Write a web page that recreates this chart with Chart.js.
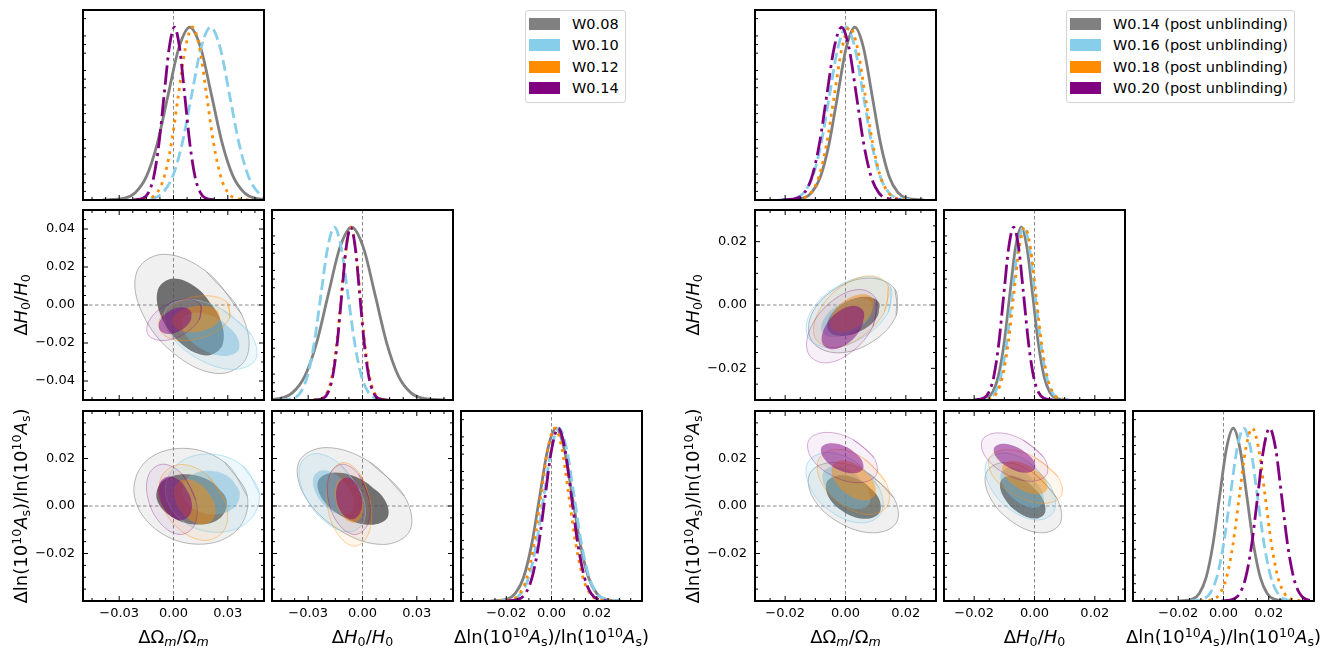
<!DOCTYPE html>
<html>
<head>
<meta charset="utf-8">
<script src="https://cdn.jsdelivr.net/npm/chart.js@4.4.1/dist/chart.umd.min.js"></script>
<style>
  body { margin: 0; background: #fff; width: 1334px; height: 650px; position: relative; overflow: hidden; font-family: 'DejaVu Sans', sans-serif; }
  canvas { position: absolute; }
  .axis-title { position: absolute; font-size: 18px; line-height: 1; white-space: nowrap; color: #000; transform: translate(-50%, -50%); }
  .axis-title.vertical { transform: translate(-50%, -50%) rotate(-90deg); }
  .axis-title sub { font-size: 0.7em; vertical-align: -0.25em; line-height: 0; }
  .axis-title sup { font-size: 0.7em; vertical-align: 0.5em; line-height: 0; }
  .legend { position: absolute; border: 1px solid #d4d4d4; border-radius: 3px; background: #fff; font-size: 14.5px; padding: 2px 6px 3px 3px; }
  .legend .row { display: flex; align-items: center; height: 21.5px; white-space: nowrap; }
  .legend .swatch { width: 31px; height: 12px; margin-right: 12px; }
</style>
</head>
<body>
<script>
// ---------- samples ----------
const samplesLeft = ['W0.08', 'W0.10', 'W0.12', 'W0.14'];
const samplesRight = ['W0.14 (post unblinding)', 'W0.16 (post unblinding)', 'W0.18 (post unblinding)', 'W0.20 (post unblinding)'];
const lineColors = ['#808080', '#87ceeb', '#ff8c00', '#800080'];
const lineDashes = [[], [11, 5], [3, 5], [19, 5, 3, 5]];
const outerFills = ['rgba(128,128,128,0.12)', 'rgba(135,206,235,0.15)', 'rgba(255,140,0,0.07)', 'rgba(128,0,128,0.06)'];
const innerFills = ['rgba(80,80,80,0.8)', 'rgba(110,185,220,0.45)', 'rgba(255,140,0,0.45)', 'rgba(128,0,128,0.5)'];
const edgeColors = ['rgba(128,128,128,0.7)', 'rgba(135,206,235,0.7)', 'rgba(255,140,0,0.5)', 'rgba(128,0,128,0.4)'];

// ---------- ticks ----------
const ticksWide = [-0.03, 0, 0.03];
const labelsWide = ['\u22120.03', '0.00', '0.03'];
const ticksH0Y = [-0.04, -0.02, 0, 0.02, 0.04];
const labelsH0Y = ['\u22120.04', '\u22120.02', '0.00', '0.02', '0.04'];
const ticksNarrow = [-0.02, 0, 0.02];
const labelsNarrow = ['\u22120.02', '0.00', '0.02'];
const pdfMinorTicks = [0.05, 0.1, 0.15, 0.25, 0.3, 0.35, 0.45, 0.5, 0.55, 0.65, 0.7, 0.75, 0.85, 0.9, 0.95, 1.05];

// ---------- 1D marginals (normalised peak = 1) ----------
const pdfShape = [0.0003, 0.011, 0.044, 0.135, 0.325, 0.607, 0.882, 1, 0.882, 0.607, 0.325, 0.135, 0.044, 0.011, 0.0003];

const leftOmX = [
  [-0.039, -0.027, -0.021, -0.015, -0.009, -0.003, 0.003, 0.009, 0.015, 0.021, 0.027, 0.033, 0.039, 0.045, 0.057],
  [-0.0215, -0.011, -0.00575, -0.0005, 0.00475, 0.01, 0.01525, 0.0205, 0.02575, 0.031, 0.03625, 0.0415, 0.04675, 0.052, 0.0625],
  [-0.0207, -0.0129, -0.009, -0.0051, -0.0012, 0.0027, 0.0066, 0.0105, 0.0144, 0.0183, 0.0222, 0.0261, 0.03, 0.0339, 0.0417],
  [-0.0223, -0.0166, -0.01375, -0.0109, -0.00805, -0.0052, -0.00235, 0.0005, 0.00335, 0.0062, 0.00905, 0.0119, 0.01475, 0.0176, 0.0233]
];
const leftH0X = [
  [-0.058, -0.045, -0.0385, -0.032, -0.0255, -0.019, -0.0125, -0.006, 0.0005, 0.007, 0.0135, 0.02, 0.0265, 0.033, 0.046],
  [-0.0455, -0.038, -0.03425, -0.0305, -0.02675, -0.023, -0.01925, -0.0155, -0.01175, -0.008, -0.00425, -0.0005, 0.00325, 0.007, 0.0145],
  [-0.0273, -0.0221, -0.0195, -0.0169, -0.0143, -0.0117, -0.0091, -0.0065, -0.0039, -0.0013, 0.0013, 0.0039, 0.0065, 0.0091, 0.0143],
  [-0.0265, -0.0215, -0.019, -0.0165, -0.014, -0.0115, -0.009, -0.0065, -0.004, -0.0015, 0.001, 0.0035, 0.006, 0.0085, 0.0135]
];
const leftAsX = [
  [-0.0268, -0.0196, -0.016, -0.0124, -0.0088, -0.0052, -0.0016, 0.002, 0.0056, 0.0092, 0.0128, 0.0164, 0.02, 0.0236, 0.0308],
  [-0.0235, -0.0168, -0.01345, -0.0101, -0.00675, -0.0034, -0.00005, 0.0033, 0.00665, 0.01, 0.01335, 0.0167, 0.02005, 0.0234, 0.0301],
  [-0.0233, -0.0171, -0.014, -0.0109, -0.0078, -0.0047, -0.0016, 0.0015, 0.0046, 0.0077, 0.0108, 0.0139, 0.017, 0.0201, 0.0263],
  [-0.0202, -0.0144, -0.0115, -0.0086, -0.0057, -0.0028, 0.0001, 0.003, 0.0059, 0.0088, 0.0117, 0.0146, 0.0175, 0.0204, 0.0262]
];
const rightOmX = [
  [-0.0197, -0.014, -0.01115, -0.0083, -0.00545, -0.0026, 0.00025, 0.0031, 0.00595, 0.0088, 0.01165, 0.0145, 0.01735, 0.0202, 0.0259],
  [-0.0221, -0.0165, -0.0137, -0.0109, -0.0081, -0.0053, -0.0025, 0.0003, 0.0031, 0.0059, 0.0087, 0.0115, 0.0143, 0.0171, 0.0227],
  [-0.019, -0.0139, -0.01135, -0.0088, -0.00625, -0.0037, -0.00115, 0.0014, 0.00395, 0.0065, 0.00905, 0.0116, 0.01415, 0.0167, 0.0218],
  [-0.0209, -0.016, -0.01355, -0.0111, -0.00865, -0.0062, -0.00375, -0.0013, 0.00115, 0.0036, 0.00605, 0.0085, 0.01095, 0.0134, 0.0183]
];
const rightH0X = [
  [-0.0196, -0.0158, -0.0139, -0.012, -0.0101, -0.0082, -0.0063, -0.0044, -0.0025, -0.0006, 0.0013, 0.0032, 0.0051, 0.007, 0.0108],
  [-0.0188, -0.015, -0.0131, -0.0112, -0.0093, -0.0074, -0.0055, -0.0036, -0.0017, 0.0002, 0.0021, 0.004, 0.0059, 0.0078, 0.0116],
  [-0.018, -0.0143, -0.01245, -0.0106, -0.00875, -0.0069, -0.00505, -0.0032, -0.00135, 0.0005, 0.00235, 0.0042, 0.00605, 0.0079, 0.0116],
  [-0.0201, -0.0168, -0.01515, -0.0135, -0.01185, -0.0102, -0.00855, -0.0069, -0.00525, -0.0036, -0.00195, -0.0003, 0.00135, 0.003, 0.0063]
];
const rightAsX = [
  [-0.0197, -0.0137, -0.0107, -0.0077, -0.0047, -0.0017, 0.0013, 0.0043, 0.0073, 0.0103, 0.0133, 0.0163, 0.0193, 0.0223, 0.0283],
  [-0.015, -0.009, -0.006, -0.003, 0, 0.003, 0.006, 0.009, 0.012, 0.015, 0.018, 0.021, 0.024, 0.027, 0.033],
  [-0.0101, -0.0044, -0.00155, 0.0013, 0.00415, 0.007, 0.00985, 0.0127, 0.01555, 0.0184, 0.02125, 0.0241, 0.02695, 0.0298, 0.0355],
  [-0.0008, 0.0045, 0.00715, 0.0098, 0.01245, 0.0151, 0.01775, 0.0204, 0.02305, 0.0257, 0.02835, 0.031, 0.03365, 0.0363, 0.0416]
];

// ---------- 2D contours (outer = 95%, inner = 68%), points [x, y] ----------
const leftOmH0Outer = [
  [[0.0375, -0.0047], [0.0183, 0.0175], [-0.0056, 0.0267], [-0.0203, 0.0175], [-0.0171, -0.0047], [0.0021, -0.0269], [0.0260, -0.0361], [0.0407, -0.0269]],
  [[0.0428, -0.0155], [0.0271, -0.0025], [0.0076, 0.0029], [-0.0044, -0.0025], [-0.0018, -0.0155], [0.0139, -0.0285], [0.0334, -0.0339], [0.0454, -0.0285]],
  [[0.0310, -0.0069], [0.0296, 0.0014], [0.0178, 0.0049], [0.0025, 0.0014], [-0.0074, -0.0069], [-0.0060, -0.0152], [0.0058, -0.0187], [0.0211, -0.0152]],
  [[0.0142, -0.0078], [0.0151, -0.0001], [0.0074, 0.0031], [-0.0043, -0.0001], [-0.0132, -0.0078], [-0.0141, -0.0155], [-0.0064, -0.0187], [0.0053, -0.0155]]
];
const leftOmH0Inner = [
  [[0.0253, -0.0063], [0.0140, 0.0081], [0.0000, 0.0140], [-0.0086, 0.0081], [-0.0067, -0.0063], [0.0046, -0.0207], [0.0186, -0.0266], [0.0272, -0.0207]],
  [[0.0344, -0.0155], [0.0247, -0.0074], [0.0125, -0.0041], [0.0050, -0.0074], [0.0066, -0.0155], [0.0163, -0.0236], [0.0285, -0.0269], [0.0360, -0.0236]],
  [[0.0257, -0.0074], [0.0238, -0.0025], [0.0153, -0.0004], [0.0052, -0.0025], [-0.0005, -0.0074], [0.0014, -0.0123], [0.0099, -0.0144], [0.0200, -0.0123]],
  [[0.0095, -0.0082], [0.0096, -0.0033], [0.0047, -0.0012], [-0.0024, -0.0033], [-0.0075, -0.0082], [-0.0076, -0.0131], [-0.0027, -0.0152], [0.0044, -0.0131]]
];
const leftOmAsOuter = [
  [[0.0408, 0.0041], [0.0283, 0.0184], [0.0049, 0.0243], [-0.0158, 0.0184], [-0.0216, 0.0041], [-0.0091, -0.0102], [0.0143, -0.0161], [0.0350, -0.0102]],
  [[0.0474, 0.0054], [0.0380, 0.0171], [0.0189, 0.0219], [0.0014, 0.0171], [-0.0044, 0.0054], [0.0050, -0.0063], [0.0241, -0.0111], [0.0416, -0.0063]],
  [[0.0288, 0.0015], [0.0188, 0.0128], [0.0043, 0.0175], [-0.0063, 0.0128], [-0.0068, 0.0015], [0.0032, -0.0098], [0.0177, -0.0145], [0.0283, -0.0098]],
  [[0.0122, 0.0028], [0.0049, 0.0133], [-0.0058, 0.0176], [-0.0136, 0.0133], [-0.0140, 0.0028], [-0.0067, -0.0077], [0.0040, -0.0120], [0.0118, -0.0077]]
];
const leftOmAsInner = [
  [[0.0292, 0.0028], [0.0208, 0.0103], [0.0061, 0.0134], [-0.0063, 0.0103], [-0.0092, 0.0028], [-0.0008, -0.0047], [0.0139, -0.0078], [0.0263, -0.0047]],
  [[0.0366, 0.0056], [0.0308, 0.0121], [0.0191, 0.0148], [0.0083, 0.0121], [0.0048, 0.0056], [0.0106, -0.0009], [0.0223, -0.0036], [0.0331, -0.0009]],
  [[0.0222, 0.0018], [0.0159, 0.0085], [0.0071, 0.0113], [0.0010, 0.0085], [0.0012, 0.0018], [0.0075, -0.0049], [0.0163, -0.0077], [0.0224, -0.0049]],
  [[0.0096, 0.0032], [0.0047, 0.0097], [-0.0024, 0.0124], [-0.0076, 0.0097], [-0.0078, 0.0032], [-0.0029, -0.0033], [0.0042, -0.0060], [0.0094, -0.0033]]
];
const leftH0AsOuter = [
  [[0.0231, 0.0042], [0.0038, 0.0186], [-0.0203, 0.0246], [-0.0351, 0.0186], [-0.0319, 0.0042], [-0.0126, -0.0102], [0.0115, -0.0162], [0.0263, -0.0102]],
  [[-0.0008, 0.0056], [-0.0120, 0.0173], [-0.0259, 0.0221], [-0.0344, 0.0173], [-0.0326, 0.0056], [-0.0214, -0.0061], [-0.0075, -0.0109], [0.0010, -0.0061]],
  [[0.0047, 0.0007], [-0.0010, 0.0131], [-0.0105, 0.0183], [-0.0181, 0.0131], [-0.0195, 0.0007], [-0.0138, -0.0117], [-0.0043, -0.0169], [0.0033, -0.0117]],
  [[0.0037, 0.0028], [-0.0021, 0.0133], [-0.0111, 0.0176], [-0.0181, 0.0133], [-0.0189, 0.0028], [-0.0131, -0.0077], [-0.0041, -0.0120], [0.0029, -0.0077]]
];
const leftH0AsInner = [
  [[0.0119, 0.0031], [-0.0001, 0.0109], [-0.0151, 0.0141], [-0.0243, 0.0109], [-0.0223, 0.0031], [-0.0103, -0.0047], [0.0047, -0.0079], [0.0139, -0.0047]],
  [[-0.0061, 0.0056], [-0.0130, 0.0123], [-0.0217, 0.0151], [-0.0270, 0.0123], [-0.0259, 0.0056], [-0.0190, -0.0011], [-0.0103, -0.0039], [-0.0050, -0.0011]],
  [[0.0001, 0.0025], [-0.0038, 0.0092], [-0.0098, 0.0120], [-0.0144, 0.0092], [-0.0149, 0.0025], [-0.0110, -0.0042], [-0.0050, -0.0070], [-0.0004, -0.0042]],
  [[-0.0003, 0.0032], [-0.0034, 0.0094], [-0.0088, 0.0120], [-0.0134, 0.0094], [-0.0145, 0.0032], [-0.0114, -0.0030], [-0.0060, -0.0056], [-0.0014, -0.0030]]
];
const rightOmH0Outer = [
  [[0.0168, -0.0033], [0.0164, 0.0050], [0.0080, 0.0085], [-0.0035, 0.0050], [-0.0114, -0.0033], [-0.0110, -0.0116], [-0.0026, -0.0151], [0.0089, -0.0116]],
  [[0.0142, -0.0023], [0.0150, 0.0056], [0.0078, 0.0089], [-0.0032, 0.0056], [-0.0116, -0.0023], [-0.0124, -0.0102], [-0.0052, -0.0135], [0.0058, -0.0102]],
  [[0.0129, -0.0021], [0.0142, 0.0059], [0.0083, 0.0092], [-0.0013, 0.0059], [-0.0089, -0.0021], [-0.0102, -0.0101], [-0.0043, -0.0134], [0.0053, -0.0101]],
  [[0.0091, -0.0067], [0.0103, 0.0015], [0.0048, 0.0049], [-0.0041, 0.0015], [-0.0113, -0.0067], [-0.0125, -0.0149], [-0.0070, -0.0183], [0.0019, -0.0149]]
];
const rightOmH0Inner = [
  [[0.0106, -0.0036], [0.0111, 0.0008], [0.0067, 0.0026], [-0.0001, 0.0008], [-0.0052, -0.0036], [-0.0057, -0.0080], [-0.0013, -0.0098], [0.0055, -0.0080]],
  [[0.0079, -0.0040], [0.0088, 0.0004], [0.0048, 0.0022], [-0.0017, 0.0004], [-0.0069, -0.0040], [-0.0078, -0.0084], [-0.0038, -0.0102], [0.0027, -0.0084]],
  [[0.0086, -0.0026], [0.0093, 0.0017], [0.0059, 0.0035], [0.0003, 0.0017], [-0.0042, -0.0026], [-0.0049, -0.0069], [-0.0015, -0.0087], [0.0041, -0.0069]],
  [[0.0053, -0.0071], [0.0061, -0.0022], [0.0028, -0.0002], [-0.0026, -0.0022], [-0.0069, -0.0071], [-0.0077, -0.0120], [-0.0044, -0.0140], [0.0010, -0.0120]]
];
const rightOmAsOuter = [
  [[0.0160, 0.0035], [0.0073, 0.0140], [-0.0042, 0.0183], [-0.0117, 0.0140], [-0.0108, 0.0035], [-0.0021, -0.0070], [0.0094, -0.0113], [0.0169, -0.0070]],
  [[0.0111, 0.0077], [0.0037, 0.0182], [-0.0061, 0.0225], [-0.0125, 0.0182], [-0.0117, 0.0077], [-0.0043, -0.0028], [0.0055, -0.0071], [0.0119, -0.0028]],
  [[0.0133, 0.0101], [0.0063, 0.0198], [-0.0028, 0.0238], [-0.0088, 0.0198], [-0.0081, 0.0101], [-0.0011, 0.0004], [0.0080, -0.0036], [0.0140, 0.0004]],
  [[0.0094, 0.0204], [0.0026, 0.0279], [-0.0063, 0.0310], [-0.0121, 0.0279], [-0.0114, 0.0204], [-0.0046, 0.0129], [0.0043, 0.0098], [0.0101, 0.0129]]
];
const rightOmAsInner = [
  [[0.0108, 0.0038], [0.0055, 0.0103], [-0.0015, 0.0130], [-0.0061, 0.0103], [-0.0056, 0.0038], [-0.0003, -0.0027], [0.0067, -0.0054], [0.0113, -0.0027]],
  [[0.0072, 0.0077], [0.0024, 0.0141], [-0.0037, 0.0167], [-0.0074, 0.0141], [-0.0066, 0.0077], [-0.0018, 0.0013], [0.0043, -0.0013], [0.0080, 0.0013]],
  [[0.0091, 0.0108], [0.0046, 0.0168], [-0.0010, 0.0193], [-0.0044, 0.0168], [-0.0037, 0.0108], [0.0008, 0.0048], [0.0064, 0.0023], [0.0098, 0.0048]],
  [[0.0050, 0.0201], [0.0007, 0.0246], [-0.0047, 0.0264], [-0.0080, 0.0246], [-0.0072, 0.0201], [-0.0029, 0.0156], [0.0025, 0.0138], [0.0058, 0.0156]]
];
const rightH0AsOuter = [
  [[0.0073, 0.0035], [-0.0004, 0.0140], [-0.0101, 0.0183], [-0.0160, 0.0140], [-0.0147, 0.0035], [-0.0070, -0.0070], [0.0027, -0.0113], [0.0086, -0.0070]],
  [[0.0054, 0.0082], [-0.0017, 0.0182], [-0.0106, 0.0223], [-0.0160, 0.0182], [-0.0148, 0.0082], [-0.0077, -0.0018], [0.0012, -0.0059], [0.0066, -0.0018]],
  [[0.0077, 0.0124], [0.0002, 0.0204], [-0.0092, 0.0237], [-0.0149, 0.0204], [-0.0137, 0.0124], [-0.0062, 0.0044], [0.0032, 0.0011], [0.0089, 0.0044]],
  [[0.0030, 0.0206], [-0.0038, 0.0278], [-0.0122, 0.0308], [-0.0173, 0.0278], [-0.0162, 0.0206], [-0.0094, 0.0134], [-0.0010, 0.0104], [0.0041, 0.0134]]
];
const rightH0AsInner = [
  [[0.0024, 0.0037], [-0.0024, 0.0101], [-0.0081, 0.0127], [-0.0113, 0.0101], [-0.0102, 0.0037], [-0.0054, -0.0027], [0.0003, -0.0053], [0.0035, -0.0027]],
  [[0.0019, 0.0077], [-0.0027, 0.0137], [-0.0081, 0.0162], [-0.0112, 0.0137], [-0.0101, 0.0077], [-0.0055, 0.0017], [-0.0001, -0.0008], [0.0030, 0.0017]],
  [[0.0031, 0.0120], [-0.0016, 0.0169], [-0.0073, 0.0190], [-0.0106, 0.0169], [-0.0095, 0.0120], [-0.0048, 0.0071], [0.0009, 0.0050], [0.0042, 0.0071]],
  [[-0.0008, 0.0201], [-0.0052, 0.0244], [-0.0104, 0.0262], [-0.0134, 0.0244], [-0.0124, 0.0201], [-0.0080, 0.0158], [-0.0028, 0.0140], [0.0002, 0.0158]]
];

// ---------- layout ----------
const PAD = 3, YW = 60, XH = 24, PW = 181, PH = 190;
const colsLeft = [83, 272, 461];
const colsRight = [755, 944, 1133];
const rows = [10, 210, 411];

Chart.defaults.font.family = "'DejaVu Sans', sans-serif";
Chart.defaults.font.size = 13;
Chart.defaults.color = '#000';

function minorList(ax) {
  const out = [];
  const n0 = Math.ceil(ax.min / ax.step - 1e-9), n1 = Math.floor(ax.max / ax.step + 1e-9);
  for (let k = n0; k <= n1; k++) {
    const v = k * ax.step;
    if (v <= ax.min + 1e-9 || v >= ax.max - 1e-9) continue;
    if (ax.major.some(m => Math.abs(m - v) < ax.step / 10)) continue;
    out.push(v);
  }
  return out;
}

const axOmL = { min: -0.05, max: 0.05, major: ticksWide, labels: labelsWide, step: 0.0075 };
const axH0Lx = { min: -0.05, max: 0.05, major: ticksWide, labels: labelsWide, step: 0.0075 };
const axH0Ly = { min: -0.05, max: 0.05, major: ticksH0Y, labels: labelsH0Y, step: 0.005 };
const axAs = { min: -0.04, max: 0.04, major: ticksNarrow, labels: labelsNarrow, step: 0.005 };
const axR = { min: -0.03, max: 0.03, major: ticksNarrow, labels: labelsNarrow, step: 0.005 };
const axPdf = { min: 0, max: 1.1, major: [], labels: [], minorList: pdfMinorTicks };

// inward ticks, frame and zero lines
const panelDecor = {
  id: 'panelDecor',
  beforeDatasetsDraw(chart, args, o) {
    const { ctx, chartArea: a, scales } = chart;
    ctx.save();
    ctx.strokeStyle = '#7a7a7a';
    ctx.lineWidth = 0.9;
    ctx.setLineDash([3.5, 2.5]);
    ctx.beginPath();
    const x0 = scales.x.getPixelForValue(0);
    ctx.moveTo(x0, a.top); ctx.lineTo(x0, a.bottom);
    if (o.zeroY) {
      const y0 = scales.y.getPixelForValue(0);
      ctx.moveTo(a.left, y0); ctx.lineTo(a.right, y0);
    }
    ctx.stroke();
    ctx.restore();
  },
  afterDraw(chart, args, o) {
    const { ctx, chartArea: a, scales } = chart;
    ctx.save();
    ctx.strokeStyle = '#000';
    ctx.lineWidth = 1;
    ctx.beginPath();
    const xt = (vals, len) => vals.forEach(v => {
      const px = scales.x.getPixelForValue(v);
      ctx.moveTo(px, a.bottom); ctx.lineTo(px, a.bottom - len);
      if (o.mirror) { ctx.moveTo(px, a.top); ctx.lineTo(px, a.top + len); }
    });
    const yt = (vals, len) => vals.forEach(v => {
      const py = scales.y.getPixelForValue(v);
      ctx.moveTo(a.left, py); ctx.lineTo(a.left + len, py);
      if (o.mirror) { ctx.moveTo(a.right, py); ctx.lineTo(a.right - len, py); }
    });
    xt(o.xMajor, 5); xt(o.xMinor, 3);
    yt(o.yMajor, 5); yt(o.yMinor, 3);
    ctx.stroke();
    ctx.lineWidth = 2;
    ctx.strokeRect(a.left, a.top, a.right - a.left, a.bottom - a.top);
    ctx.restore();
  }
};

function axisOpts(ax, show, dir) {
  return {
    type: 'linear', min: ax.min, max: ax.max, display: !!show,
    afterBuildTicks: s => { s.ticks = ax.major.map(v => ({ value: v })); },
    afterFit: s => {
      if (!show) return;
      if (dir === 'x') s.height = XH; else s.width = YW;
      // keep the plot box fixed: no extra room for half-labels at the ends
      s.paddingTop = 0; s.paddingBottom = 0; s.paddingLeft = 0; s.paddingRight = 0;
    },
    ticks: {
      callback: (v, i) => ax.labels[i],
      padding: dir === 'x' ? 5 : 8,
      maxRotation: 0, minRotation: 0, autoSkip: false,
      font: { size: 13 }, color: '#000'
    },
    grid: { display: false, drawTicks: false },
    border: { display: false }
  };
}

function pdfDatasets(xs) {
  return xs.map((arr, s) => ({
    data: arr.map((x, i) => ({ x, y: pdfShape[i] })),
    showLine: true, fill: false, pointRadius: 0, pointHoverRadius: 0,
    borderColor: lineColors[s], borderWidth: 2.8, borderDash: lineDashes[s],
    borderCapStyle: 'butt', cubicInterpolationMode: 'monotone',
    order: 10 - s
  }));
}

function closed(pts) {
  const p = pts.map(([x, y]) => ({ x, y }));
  return p.concat([p[0], p[1]]);
}

function contourDatasets(outer, inner) {
  const out = [];
  for (let s = 0; s < 4; s++) {
    out.push({
      data: closed(outer[s]), showLine: true, fill: 'shape', tension: 0.375,
      pointRadius: 0, pointHoverRadius: 0,
      backgroundColor: outerFills[s], borderColor: edgeColors[s], borderWidth: 0.8,
      order: 100 - 2 * s
    });
    out.push({
      data: closed(inner[s]), showLine: true, fill: 'shape', tension: 0.375,
      pointRadius: 0, pointHoverRadius: 0,
      backgroundColor: innerFills[s], borderColor: 'rgba(0,0,0,0)', borderWidth: 0,
      order: 99 - 2 * s
    });
  }
  return out;
}

function makePanel(p) {
  const yw = p.yLab ? YW : 0, xh = p.xLab ? XH : 0;
  const cv = document.createElement('canvas');
  cv.width = PW + 2 * PAD + yw;
  cv.height = PH + 2 * PAD + xh;
  cv.style.left = (p.left - PAD - yw) + 'px';
  cv.style.top = (p.top - PAD) + 'px';
  document.body.appendChild(cv);
  const is2D = p.y !== axPdf;
  new Chart(cv, {
    type: 'scatter',
    data: { datasets: p.datasets },
    options: {
      responsive: false, animation: false, events: [],
      layout: { padding: PAD },
      plugins: {
        legend: { display: false }, tooltip: { enabled: false },
        panelDecor: {
          zeroY: is2D, mirror: is2D,
          xMajor: p.x.major, xMinor: minorList(p.x),
          yMajor: is2D ? p.y.major : [], yMinor: is2D ? minorList(p.y) : p.y.minorList
        }
      },
      scales: { x: axisOpts(p.x, p.xLab, 'x'), y: axisOpts(p.y, p.yLab, 'y') }
    },
    plugins: [panelDecor]
  });
}

// left triangle
makePanel({ left: colsLeft[0], top: rows[0], x: axOmL, y: axPdf, datasets: pdfDatasets(leftOmX) });
makePanel({ left: colsLeft[0], top: rows[1], x: axOmL, y: axH0Ly, yLab: true, datasets: contourDatasets(leftOmH0Outer, leftOmH0Inner) });
makePanel({ left: colsLeft[1], top: rows[1], x: axH0Lx, y: axPdf, datasets: pdfDatasets(leftH0X) });
makePanel({ left: colsLeft[0], top: rows[2], x: axOmL, y: axAs, xLab: true, yLab: true, datasets: contourDatasets(leftOmAsOuter, leftOmAsInner) });
makePanel({ left: colsLeft[1], top: rows[2], x: axH0Lx, y: axAs, xLab: true, datasets: contourDatasets(leftH0AsOuter, leftH0AsInner) });
makePanel({ left: colsLeft[2], top: rows[2], x: axAs, y: axPdf, xLab: true, datasets: pdfDatasets(leftAsX) });

// right triangle
makePanel({ left: colsRight[0], top: rows[0], x: axR, y: axPdf, datasets: pdfDatasets(rightOmX) });
makePanel({ left: colsRight[0], top: rows[1], x: axR, y: axR, yLab: true, datasets: contourDatasets(rightOmH0Outer, rightOmH0Inner) });
makePanel({ left: colsRight[1], top: rows[1], x: axR, y: axPdf, datasets: pdfDatasets(rightH0X) });
makePanel({ left: colsRight[0], top: rows[2], x: axR, y: axAs, xLab: true, yLab: true, datasets: contourDatasets(rightOmAsOuter, rightOmAsInner) });
makePanel({ left: colsRight[1], top: rows[2], x: axR, y: axAs, xLab: true, datasets: contourDatasets(rightH0AsOuter, rightH0AsInner) });
makePanel({ left: colsRight[2], top: rows[2], x: axAs, y: axPdf, xLab: true, datasets: pdfDatasets(rightAsX) });

// axis titles
const titleOm = '\u0394\u03a9<sub><i>m</i></sub>/\u03a9<sub><i>m</i></sub>';
const titleH0 = '\u0394<i>H</i><sub>0</sub>/<i>H</i><sub>0</sub>';
const titleAs = '\u0394ln(10<sup>10</sup><i>A</i><sub>s</sub>)/ln(10<sup>10</sup><i>A</i><sub>s</sub>)';

function addTitle(html, x, y, vertical) {
  const d = document.createElement('div');
  d.className = 'axis-title' + (vertical ? ' vertical' : '');
  d.innerHTML = html;
  d.style.left = x + 'px';
  d.style.top = y + 'px';
  document.body.appendChild(d);
}
[colsLeft, colsRight].forEach(cols => {
  addTitle(titleOm, cols[0] + PW / 2, 637);
  addTitle(titleH0, cols[1] + PW / 2, 637);
  addTitle(titleAs, cols[2] + PW / 2, 637);
  addTitle(titleH0, cols[0] - 62, rows[1] + PH / 2, true);
  addTitle(titleAs, cols[0] - 62, rows[2] + PH / 2, true);
});

// legends
function addLegend(labels, left, top) {
  const box = document.createElement('div');
  box.className = 'legend';
  box.style.left = left + 'px';
  box.style.top = top + 'px';
  labels.forEach((t, i) => {
    const row = document.createElement('div');
    row.className = 'row';
    const sw = document.createElement('span');
    sw.className = 'swatch';
    sw.style.background = lineColors[i];
    const tx = document.createElement('span');
    tx.textContent = t;
    row.appendChild(sw); row.appendChild(tx);
    box.appendChild(row);
  });
  document.body.appendChild(box);
}
addLegend(samplesLeft, 525, 10);
addLegend(samplesRight, 1066, 10);
</script>
</body>
</html>
